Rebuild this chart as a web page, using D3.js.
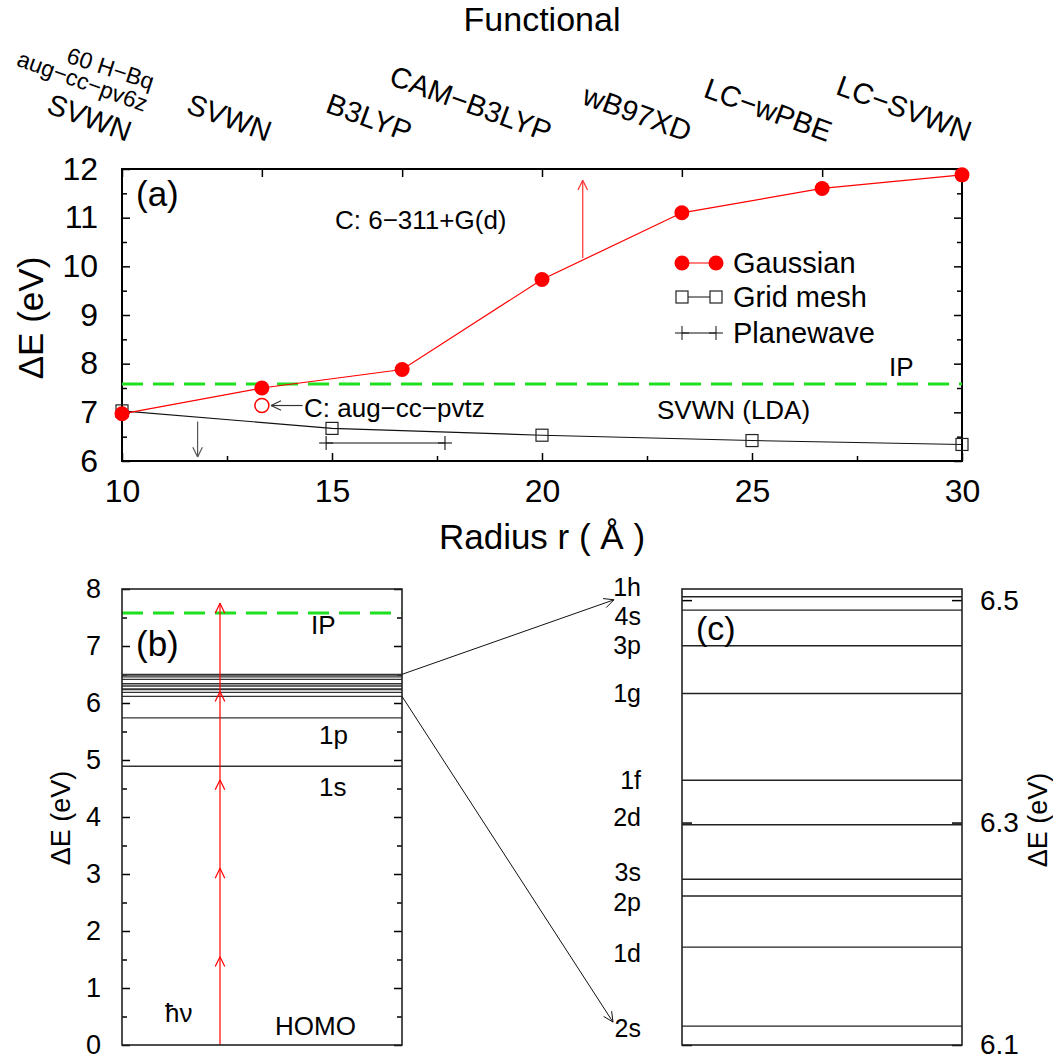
<!DOCTYPE html>
<html>
<head>
<meta charset="utf-8">
<script src="https://cdn.jsdelivr.net/npm/d3@7"></script>
<style>
body { margin: 0; background: #fff; }
text { font-family: "Liberation Sans", Arial, sans-serif; fill: #000; }
.axis path.domain { display: none; }
.axis line { stroke: #000; stroke-width: 1.5; }
</style>
</head>
<body>
<svg id="fig" width="1053" height="1061"></svg>
<script>
// ---- data ----
var functionals = ["SVWN", "SVWN", "B3LYP", "CAM−B3LYP", "wB97XD", "LC−wPBE", "LC−SVWN"];
var functionalR = [10, 13.33, 16.67, 20, 23.33, 26.67, 30];
var gaussE = [6.97, 7.5, 7.88, 9.73, 11.1, 11.6, 11.88];
var gridR = [10, 15, 20, 25, 30];
var gridE = [7.03, 6.67, 6.53, 6.42, 6.34];
var planeR = [14.86, 17.69];
var planeE = [6.37, 6.37];
var augR = 13.33, augE = 7.14;
var ionE = 7.58;
var seriesNames = ["Gaussian", "Grid mesh", "Planewave"];
var yTicksA = [6, 7, 8, 9, 10, 11, 12];
var xTicksA = [10, 15, 20, 25, 30];

var levelNames = ["1s", "1p", "2s", "1d", "2p", "3s", "2d", "1f", "1g", "3p", "4s", "1h"];
var levelE = [4.89, 5.74, 6.117, 6.188, 6.234, 6.249, 6.298, 6.338, 6.416, 6.459, 6.491, 6.503];
var photonE = 1.55;
var nPhotons = 5;
var yTicksB = [0, 1, 2, 3, 4, 5, 6, 7, 8];
var yTicksC = [6.1, 6.3, 6.5];

var svg = d3.select("#fig");

function arrow(g, x0, y0, x1, y1, color, w) {
    var a = Math.atan2(y1 - y0, x1 - x0), L = 11, h = 0.45;
    g.append("line").attr("x1", x0).attr("y1", y0).attr("x2", x1).attr("y2", y1)
        .attr("stroke", color).attr("stroke-width", w || 1.2);
    [a + Math.PI - h, a + Math.PI + h].forEach(function (b) {
        g.append("line").attr("x1", x1).attr("y1", y1)
            .attr("x2", x1 + L * Math.cos(b)).attr("y2", y1 + L * Math.sin(b))
            .attr("stroke", color).attr("stroke-width", w || 1.2);
    });
}
function head(g, x, y, color) {
    // upward open arrowhead without shaft
    var L = 11, h = 0.45;
    [Math.PI / 2 - h, Math.PI / 2 + h].forEach(function (b) {
        g.append("line").attr("x1", x).attr("y1", y)
            .attr("x2", x + L * Math.cos(b)).attr("y2", y + L * Math.sin(b))
            .attr("stroke", color).attr("stroke-width", 1.2);
    });
}
function minors(lo, hi, step) {
    var out = [];
    for (var v = lo + step / 2; v < hi; v += step) out.push(+v.toFixed(3));
    return out;
}

// ================= panel (a) =================
var xA = d3.scaleLinear().domain([10, 30]).range([122, 962]);
var yA = d3.scaleLinear().domain([6, 12]).range([461, 169]);
var gA = svg.append("g");

gA.append("g").attr("class", "axis").attr("transform", "translate(122,0)")
    .call(d3.axisLeft(yA).tickValues(yTicksA).tickSize(-8).tickPadding(24).tickFormat(d3.format("d")))
    .selectAll("text").style("font-size", "32px").attr("font-family", null);
gA.append("g").attr("class", "axis").attr("transform", "translate(122,0)")
    .call(d3.axisLeft(yA).tickValues(minors(6, 12, 1)).tickSize(-5).tickFormat(""));
gA.append("g").attr("class", "axis").attr("transform", "translate(962,0)")
    .call(d3.axisRight(yA).tickValues(yTicksA).tickSize(-8).tickFormat(""));
gA.append("g").attr("class", "axis").attr("transform", "translate(962,0)")
    .call(d3.axisRight(yA).tickValues(minors(6, 12, 1)).tickSize(-5).tickFormat(""));
gA.append("g").attr("class", "axis").attr("transform", "translate(0,461)")
    .call(d3.axisBottom(xA).tickValues(xTicksA).tickSize(-8).tickPadding(18).tickFormat(d3.format("d")))
    .selectAll("text").style("font-size", "32px").attr("font-family", null);
gA.append("g").attr("class", "axis").attr("transform", "translate(0,461)")
    .call(d3.axisBottom(xA).tickValues(minors(10, 30, 5)).tickSize(-5).tickFormat(""));
gA.append("g").attr("class", "axis").attr("transform", "translate(0,169)")
    .call(d3.axisTop(xA).tickValues(functionalR).tickSize(-8).tickFormat(""));

gA.append("rect").attr("x", 122).attr("y", 169).attr("width", 840).attr("height", 292)
    .attr("fill", "none").attr("stroke", "#000").attr("stroke-width", 2);

// functional names along the top
functionals.forEach(function (f, i) {
    gA.append("text").attr("text-anchor", "end").style("font-size", "29px")
        .attr("transform", "translate(" + (xA(functionalR[i]) + 5) + ",142) rotate(20)")
        .text(f);
});
gA.append("text").attr("text-anchor", "end").style("font-size", "23px")
    .attr("transform", "translate(144,112) rotate(20)").text("aug−cc−pv6z");
gA.append("text").attr("text-anchor", "end").style("font-size", "23px")
    .attr("transform", "translate(151,90) rotate(18)").text("60 H−Bq");
svg.append("text").attr("x", 542).attr("y", 31).attr("text-anchor", "middle")
    .style("font-size", "34px").text("Functional");

// IP line
gA.append("line").attr("x1", 122).attr("x2", 962).attr("y1", yA(ionE)).attr("y2", yA(ionE))
    .attr("stroke", "#1ee01e").attr("stroke-width", 3).attr("stroke-dasharray", "21,10");

// grid mesh
var lineA = d3.line().x(function (d) { return xA(d[0]); }).y(function (d) { return yA(d[1]); });
var gridPts = d3.zip(gridR, gridE);
gA.append("path").attr("d", lineA(gridPts)).attr("fill", "none").attr("stroke", "#111").attr("stroke-width", 1.1);
gA.selectAll(".sq").data(gridPts).enter().append("rect")
    .attr("x", function (d) { return xA(d[0]) - 6; }).attr("y", function (d) { return yA(d[1]) - 6; })
    .attr("width", 12).attr("height", 12).attr("fill", "none").attr("stroke", "#222").attr("stroke-width", 1.2);

// planewave
var planePts = d3.zip(planeR, planeE);
gA.append("path").attr("d", lineA(planePts)).attr("fill", "none").attr("stroke", "#111").attr("stroke-width", 1.1);
planePts.forEach(function (d) {
    var px = xA(d[0]), py = yA(d[1]);
    gA.append("line").attr("x1", px - 7).attr("x2", px + 7).attr("y1", py).attr("y2", py).attr("stroke", "#111").attr("stroke-width", 1.1);
    gA.append("line").attr("x1", px).attr("x2", px).attr("y1", py - 7).attr("y2", py + 7).attr("stroke", "#111").attr("stroke-width", 1.1);
});

// gaussian
var gaussPts = d3.zip(functionalR, gaussE);
gA.append("path").attr("d", lineA(gaussPts)).attr("fill", "none").attr("stroke", "#ff0000").attr("stroke-width", 1.2);
gA.selectAll(".gp").data(gaussPts).enter().append("circle")
    .attr("cx", function (d) { return xA(d[0]); }).attr("cy", function (d) { return yA(d[1]); })
    .attr("r", 7.5).attr("fill", "#ff0000");
gA.append("circle").attr("cx", xA(augR)).attr("cy", yA(augE)).attr("r", 7)
    .attr("fill", "none").attr("stroke", "#ff0000").attr("stroke-width", 1.5);

// annotations
arrow(gA, xA(14.3), yA(augE), xA(13.55), yA(augE), "#333", 1.2);
gA.append("text").attr("x", 304).attr("y", 417).style("font-size", "26px").text("C: aug−cc−pvtz");
arrow(gA, xA(20.97), yA(10.17), xA(20.97), yA(11.77), "#ff3030", 1.2);
arrow(gA, xA(11.8), yA(6.81), xA(11.8), yA(6.08), "#555", 1.2);
gA.append("text").attr("x", 136).attr("y", 206).style("font-size", "35px").text("(a)");
gA.append("text").attr("x", 335).attr("y", 229).style("font-size", "26px").text("C: 6−311+G(d)");
gA.append("text").attr("x", 889).attr("y", 376).style("font-size", "26px").text("IP");
gA.append("text").attr("x", 657).attr("y", 419).style("font-size", "26px").text("SVWN (LDA)");

// legend
var legY = [263, 297, 333];
seriesNames.forEach(function (s, i) {
    var y = legY[i];
    gA.append("line").attr("x1", 682).attr("x2", 716).attr("y1", y).attr("y2", y)
        .attr("stroke", i === 0 ? "#ff0000" : "#111").attr("stroke-width", 1.2);
    [682, 716].forEach(function (x) {
        if (i === 0) gA.append("circle").attr("cx", x).attr("cy", y).attr("r", 7.5).attr("fill", "#ff0000");
        else if (i === 1) gA.append("rect").attr("x", x - 6).attr("y", y - 6).attr("width", 12).attr("height", 12)
            .attr("fill", "#fff").attr("stroke", "#222").attr("stroke-width", 1.2);
        else {
            gA.append("line").attr("x1", x - 7).attr("x2", x + 7).attr("y1", y).attr("y2", y).attr("stroke", "#111");
            gA.append("line").attr("x1", x).attr("x2", x).attr("y1", y - 7).attr("y2", y + 7).attr("stroke", "#111");
        }
    });
    gA.append("text").attr("x", 733).attr("y", y + 10).style("font-size", "29px").text(s);
});

svg.append("text").attr("x", 542).attr("y", 549).attr("text-anchor", "middle")
    .style("font-size", "35px").text("Radius r ( Å )");
svg.append("text").attr("transform", "translate(43,318) rotate(-90)").attr("text-anchor", "middle")
    .style("font-size", "35px").text("ΔE (eV)");

// ================= panel (b) =================
var xB = d3.scaleLinear().domain([0, 1]).range([122, 402]);
var yB = d3.scaleLinear().domain([0, 8]).range([1045, 589]);
var gB = svg.append("g");

gB.append("g").attr("class", "axis").attr("transform", "translate(122,0)")
    .call(d3.axisLeft(yB).tickValues(yTicksB).tickSize(-8).tickPadding(21).tickFormat(d3.format("d")))
    .selectAll("text").style("font-size", "27px").attr("font-family", null);
gB.append("g").attr("class", "axis").attr("transform", "translate(122,0)")
    .call(d3.axisLeft(yB).tickValues(minors(0, 8, 1)).tickSize(-5).tickFormat(""));
gB.append("g").attr("class", "axis").attr("transform", "translate(402,0)")
    .call(d3.axisRight(yB).tickValues(yTicksB).tickSize(-8).tickFormat(""));
gB.append("g").attr("class", "axis").attr("transform", "translate(402,0)")
    .call(d3.axisRight(yB).tickValues(minors(0, 8, 1)).tickSize(-5).tickFormat(""));

gB.selectAll(".lvl").data(levelE).enter().append("line")
    .attr("x1", 122).attr("x2", 402)
    .attr("y1", function (d) { return yB(d); }).attr("y2", function (d) { return yB(d); })
    .attr("stroke", "#333").attr("stroke-width", 1.3);
gB.append("line").attr("x1", 122).attr("x2", 402).attr("y1", yB(ionE)).attr("y2", yB(ionE))
    .attr("stroke", "#1ee01e").attr("stroke-width", 3).attr("stroke-dasharray", "21,10");

var photonX = xB(0.35);
gB.append("line").attr("x1", photonX).attr("x2", photonX).attr("y1", yB(0)).attr("y2", yB(nPhotons * photonE))
    .attr("stroke", "#ff0000").attr("stroke-width", 1.2);
d3.range(1, nPhotons + 1).forEach(function (k) { head(gB, photonX, yB(k * photonE), "#ff0000"); });

gB.append("rect").attr("x", 122).attr("y", 589).attr("width", 280).attr("height", 456)
    .attr("fill", "none").attr("stroke", "#222").attr("stroke-width", 1.6);

gB.append("text").attr("x", 136).attr("y", 656).style("font-size", "35px").text("(b)");
gB.append("text").attr("x", 311).attr("y", 634).style("font-size", "26px").text("IP");
gB.append("text").attr("x", 319).attr("y", 744).style("font-size", "26px").text(levelNames[1]);
gB.append("text").attr("x", 319).attr("y", 796).style("font-size", "26px").text(levelNames[0]);
gB.append("text").attr("x", 165).attr("y", 1022).style("font-size", "26px").text("ħν");
gB.append("text").attr("x", 275).attr("y", 1035).style("font-size", "26px").text("HOMO");
svg.append("text").attr("transform", "translate(70,818) rotate(-90)").attr("text-anchor", "middle")
    .style("font-size", "27px").text("ΔE (eV)");

// ================= panel (c) =================
var yC = d3.scaleLinear().domain([6.1, 6.51]).range([1045, 589]);
var gC = svg.append("g");
var zoomLv = levelE.map(function (e, i) { return { e: e, n: levelNames[i] }; })
    .filter(function (d) { return d.e >= 6.1; });
var labelShift = { "1h": -10, "4s": 6, "2d": -8, "3s": -7, "2p": 6, "1d": 6, "2s": 2 };

gC.append("g").attr("class", "axis").attr("transform", "translate(962,0)")
    .call(d3.axisRight(yC).tickValues(yTicksC).tickSize(-10).tickPadding(18).tickFormat(d3.format(".1f")))
    .selectAll("text").style("font-size", "28px").attr("font-family", null);
gC.append("g").attr("class", "axis").attr("transform", "translate(682,0)")
    .call(d3.axisLeft(yC).tickValues(yTicksC).tickSize(-10).tickFormat(""));

gC.selectAll(".lvl").data(zoomLv).enter().append("line")
    .attr("x1", 682).attr("x2", 962)
    .attr("y1", function (d) { return yC(d.e); }).attr("y2", function (d) { return yC(d.e); })
    .attr("stroke", "#222").attr("stroke-width", 1.4);
gC.selectAll(".lab").data(zoomLv).enter().append("text")
    .attr("x", 641).attr("text-anchor", "end").attr("dy", "0.35em")
    .attr("y", function (d) { return yC(d.e) + (labelShift[d.n] || 0); })
    .style("font-size", "25px").text(function (d) { return d.n; });

gC.append("rect").attr("x", 682).attr("y", 589).attr("width", 280).attr("height", 456)
    .attr("fill", "none").attr("stroke", "#222").attr("stroke-width", 1.6);
gC.append("text").attr("x", 696).attr("y", 640).style("font-size", "34px").text("(c)");
svg.append("text").attr("transform", "translate(1047,820) rotate(-90)").attr("text-anchor", "middle")
    .style("font-size", "27px").text("ΔE (eV)");

// connectors from (b) to (c)
var lvTop = zoomLv[zoomLv.length - 1], lvBot = zoomLv[0];
arrow(svg, 402, yB(lvTop.e), 614, yC(lvTop.e) + 3, "#111", 1);
arrow(svg, 402, yB(lvBot.e), 613, yC(lvBot.e) - 4, "#111", 1);
</script>
</body>
</html>
